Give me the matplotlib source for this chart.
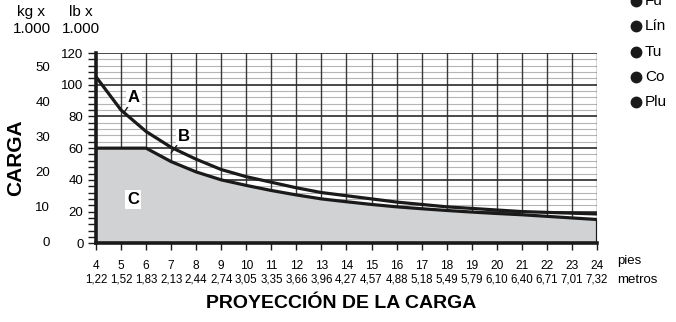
import matplotlib
matplotlib.use('Agg')
import matplotlib.pyplot as plt
import matplotlib.transforms as mtransforms
import numpy as np

# datos
pies = [4, 5, 6, 7, 8, 9, 10, 11, 12, 13, 14, 15, 16, 17, 18, 19, 20, 21, 22, 23, 24]
metros = ['1,22', '1,52', '1,83', '2,13', '2,44', '2,74', '3,05', '3,35', '3,66', '3,96', '4,27',
          '4,57', '4,88', '5,18', '5,49', '5,79', '6,10', '6,40', '6,71', '7,01', '7,32']
curva_a = [105, 84, 70.5, 60.5, 53, 46.5, 42, 38.5, 35, 32, 30, 28, 26, 24.5, 23, 22, 21, 20, 19.5, 19, 18.5]
curva_c = [60, 60, 60, 51.5, 45, 40, 36.5, 33.3, 30.5, 28, 26.2, 24.5, 23, 21.8, 20.7, 19.7, 18.8, 18, 17, 16, 15]
lb_ticks = [0, 20, 40, 60, 80, 100, 120]
kg_ticks = [0, 10, 20, 30, 40, 50]
lista = ['Fu', 'Lín', 'Tu', 'Co', 'Plu']

narrow = ['Liberation Sans Narrow', 'Liberation Sans', 'DejaVu Sans']
sans = ['Liberation Sans', 'DejaVu Sans']

W, H = 676, 322
fig = plt.figure(figsize=(W / 100, H / 100), dpi=100)
ax = fig.add_axes([96 / W, 1 - 243.3 / H, 501 / W, (243.3 - 53) / H])
ax.set_xlim(4, 24)
ax.set_ylim(0, 120)

# rejilla
for y in range(4, 120, 4):
    if y % 20:
        ax.axhline(y, color='#b5b5b5', lw=0.8, zorder=1)
for y in lb_ticks[1:]:
    ax.axhline(y, color='#2a2a2a', lw=1.2, zorder=1.2)
for x in pies[1:]:
    ax.axvline(x, color='#3a3a3a', lw=1.0, zorder=1.1)

# zona C y curvas
ax.fill_between(pies, curva_c, 0, color='#d1d2d4', zorder=2, lw=0)
ax.plot(pies, curva_a, color='#1a1a1a', lw=2.3, zorder=3, solid_capstyle='butt')
ax.plot(pies, curva_c, color='#1a1a1a', lw=2.3, zorder=3, solid_capstyle='butt')
ax.plot([pies[-1], pies[-1]], [0, curva_c[-1]], color='#1a1a1a', lw=2.3, zorder=3)

for s in ['top', 'right']:
    ax.spines[s].set_visible(False)
for s in ['left', 'bottom']:
    ax.spines[s].set_linewidth(2.6)
    ax.spines[s].set_color('#1a1a1a')
    ax.spines[s].set_zorder(4)

ax.set_yticks(lb_ticks)
ax.set_yticks([y for y in range(0, 121, 4) if y % 20], minor=True)
ax.set_yticklabels([str(v) for v in lb_ticks], fontsize=9.5, family=narrow)
ax.tick_params(axis='y', which='both', length=6, width=1, pad=3, color='#1a1a1a')
ax.set_xticks(pies)
ax.set_xticklabels([str(v) for v in pies], fontsize=8.6, family=narrow)
ax.tick_params(axis='x', length=5, width=1, pad=7, color='#1a1a1a')

# fila de metros
tr_x = mtransforms.blended_transform_factory(ax.transData, fig.transFigure)
for p, m in zip(pies, metros):
    ax.text(p, 1 - 280 / H, m, transform=tr_x, ha='center', va='center', fontsize=8.3, family=narrow)
fig.text(617 / W, 1 - 261 / H, 'pies', ha='left', va='center', fontsize=9.5, family=sans)
fig.text(617 / W, 1 - 280 / H, 'metros', ha='left', va='center', fontsize=9.5, family=sans)

# escala en kg
tr_y = mtransforms.blended_transform_factory(fig.transFigure, ax.transData)
for k in kg_ticks:
    ax.text(50 / W, k * 2.2046, str(k), transform=tr_y, ha='right', va='center',
            fontsize=9.5, family=narrow, clip_on=False)

fig.text(31 / W, 1 - 12 / H, 'kg x', ha='center', va='center', fontsize=11, family=sans)
fig.text(32 / W, 1 - 29 / H, '1.000', ha='center', va='center', fontsize=11, family=sans)
fig.text(81 / W, 1 - 12 / H, 'lb x', ha='center', va='center', fontsize=11, family=sans)
fig.text(81 / W, 1 - 29 / H, '1.000', ha='center', va='center', fontsize=11, family=sans)

fig.text(16 / W, 1 - 158 / H, 'CARGA', rotation=90, ha='center', va='center',
         fontsize=15, fontweight='bold', family=sans)
fig.text(341 / W, 1 - 304 / H, 'PROYECCIÓN DE LA CARGA', ha='center', va='center',
         fontsize=14, fontweight='bold', family=sans)

# etiquetas A, B, C
caja = dict(boxstyle='square,pad=0.1', fc='white', ec='none')
ax.annotate('A', xy=(5.1, 82), xytext=(5.52, 92), ha='center', va='center', fontsize=12,
            fontweight='bold', family=narrow, bbox=caja, zorder=5,
            arrowprops=dict(arrowstyle='-', lw=1, color='#1a1a1a', shrinkA=0, shrinkB=0))
ax.annotate('B', xy=(7.0, 57), xytext=(7.5, 67.5), ha='center', va='center', fontsize=12,
            fontweight='bold', family=narrow, bbox=caja, zorder=5,
            arrowprops=dict(arrowstyle='-', lw=1, color='#1a1a1a', shrinkA=0, shrinkB=0))
ax.text(5.48, 27.6, 'C', ha='center', va='center', fontsize=12, fontweight='bold',
        family=narrow, bbox=caja, zorder=5)

# lista de la derecha (recortada por el borde, como en el original)
for i, t in enumerate(lista):
    yy = 1 - (1 + 25.3 * i) / H
    fig.add_artist(plt.Line2D([636 / W], [yy], marker='o', ms=7.5, color='#1a1a1a',
                              transform=fig.transFigure))
    fig.text(645 / W, yy, t, ha='left', va='center', fontsize=11, family=sans)

fig.savefig('out.png', dpi=100)
